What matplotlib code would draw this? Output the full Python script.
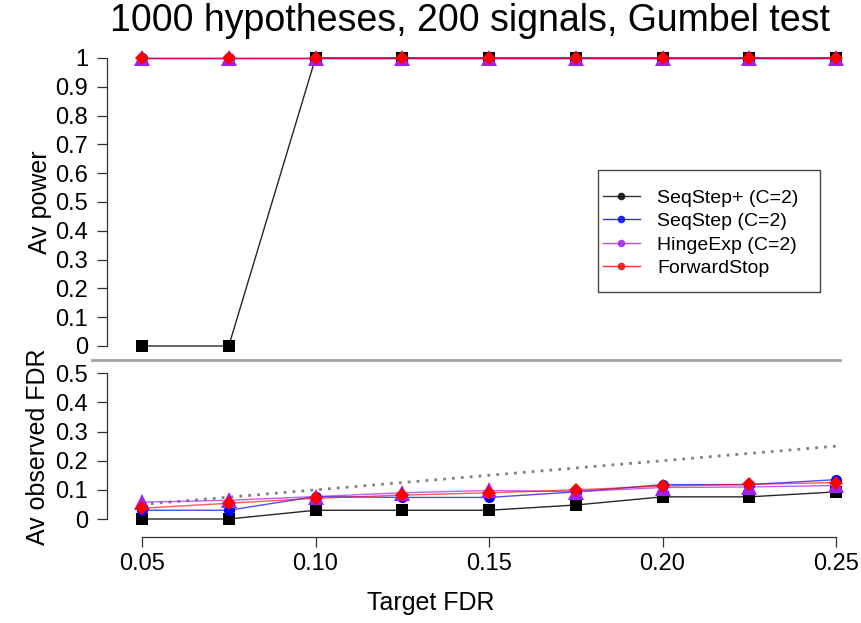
import matplotlib
matplotlib.use("Agg")
import matplotlib.pyplot as plt
from matplotlib.lines import Line2D
from matplotlib.patches import Rectangle
import numpy as np

plt.rcParams['font.family'] = ['Liberation Sans', 'DejaVu Sans']

target_fdr = [0.05, 0.075, 0.10, 0.125, 0.15, 0.175, 0.20, 0.225, 0.25]
x_ticks = [0.05, 0.10, 0.15, 0.20, 0.25]
x_tick_labels = ["0.05", "0.10", "0.15", "0.20", "0.25"]

methods = ["SeqStep+ (C=2)", "SeqStep (C=2)", "HingeExp (C=2)", "ForwardStop"]
colors = ["black", "#0000ff", "#a020f0", "#ff0000"]
markers = ["s", "o", "^", "D"]

power_seqstep_plus = [0, 0, 1, 1, 1, 1, 1, 1, 1]
power_seqstep = [1, 1, 1, 1, 1, 1, 1, 1, 1]
power_hingeexp = [1, 1, 1, 1, 1, 1, 1, 1, 1]
power_forwardstop = [1, 1, 1, 1, 1, 1, 1, 1, 1]

fdr_seqstep_plus = [0.0, 0.0, 0.03, 0.03, 0.03, 0.048, 0.076, 0.076, 0.093]
fdr_seqstep = [0.03, 0.03, 0.077, 0.074, 0.074, 0.093, 0.118, 0.118, 0.135]
fdr_hingeexp = [0.058, 0.064, 0.077, 0.09, 0.098, 0.094, 0.108, 0.11, 0.115]
fdr_forwardstop = [0.037, 0.054, 0.071, 0.082, 0.09, 0.1, 0.113, 0.119, 0.125]

power = [power_seqstep_plus, power_seqstep, power_hingeexp, power_forwardstop]
fdr = [fdr_seqstep_plus, fdr_seqstep, fdr_hingeexp, fdr_forwardstop]

W, H = 862, 623
fig = plt.figure(figsize=(W / 100, H / 100), dpi=100)

x_left_px, x_right_px = 107, 862
x0_px, x1_px = 142, 836
xscale = (x1_px - x0_px) / 0.20
xlim = (0.05 - (x0_px - x_left_px) / xscale, 0.25 + (x_right_px - x1_px) / xscale)


def make_axes(top_px, bot_px, zero_px, scale):
    ax = fig.add_axes([x_left_px / W, 1 - bot_px / H,
                       (x_right_px - x_left_px) / W, (bot_px - top_px) / H])
    ax.set_xlim(*xlim)
    ax.set_ylim((zero_px - bot_px) / scale, (zero_px - top_px) / scale)
    ax.patch.set_alpha(0)
    for s in ["top", "right"]:
        ax.spines[s].set_visible(False)
    return ax


tick_kw = dict(length=7.2, width=0.9, labelsize=17, color="#333333")
ms = {"s": 8.5, "o": 8, "^": 11, "D": 7.2}
line_alpha = [0.85, 0.7, 0.7, 0.65]


def draw_series(ax, series):
    for vals, c, a in zip(series, colors, line_alpha):
        ax.plot(target_fdr, vals, color=c, lw=1.0, alpha=a, clip_on=False, zorder=2)
    for vals, c, m in zip(series, colors, markers):
        ax.plot(target_fdr, vals, ls="none", marker=m, color=c, ms=ms[m],
                markeredgewidth=0, clip_on=False, zorder=3)


# top panel
ax1 = make_axes(45, 355, 346, 288)
ax1.spines["bottom"].set_visible(False)
ax1.set_xticks([])
ax1.spines["left"].set_bounds(0, 1)
ax1.spines["left"].set_linewidth(0.9)
ax1.spines["left"].set_color("#333333")
ax1.set_yticks(np.arange(0, 11) / 10)
ax1.set_yticklabels(["0"] + ["0.%d" % i for i in range(1, 10)] + ["1"])
ax1.tick_params(axis="y", pad=6.5, **tick_kw)
draw_series(ax1, power)

fig.text(40 / W, 1 - 202 / H, "Av power", rotation=90, fontsize=18,
         ha="center", va="center")

# separator line
fig.add_artist(Line2D([92 / W, 840 / W], [1 - 360 / H, 1 - 360 / H],
                      color="#a0a0a0", lw=2, transform=fig.transFigure))

# bottom panel
ax2 = make_axes(365, 537, 519, 291.4)
ax2.spines["left"].set_bounds(0, 0.5)
ax2.spines["bottom"].set_bounds(0.05, 0.25)
for s in ["left", "bottom"]:
    ax2.spines[s].set_linewidth(0.9)
    ax2.spines[s].set_color("#333333")
ax2.set_yticks([0, 0.1, 0.2, 0.3, 0.4, 0.5])
ax2.set_yticklabels(["0", "0.1", "0.2", "0.3", "0.4", "0.5"])
ax2.tick_params(axis="y", pad=6.5, **tick_kw)
ax2.set_xticks(x_ticks)
ax2.set_xticklabels(x_tick_labels)
ax2.tick_params(axis="x", pad=4, **tick_kw)

ax2.plot([0.05, 0.25], [0.05, 0.25], color="#808080", ls=(0, (1, 2.2)), lw=2.0,
         clip_on=False, zorder=1)
draw_series(ax2, fdr)

fig.text(38 / W, 1 - 447 / H, "Av observed FDR", rotation=90, fontsize=18,
         ha="center", va="center")
fig.text(431 / W, 1 - 603 / H, "Target FDR", fontsize=18, ha="center", va="center")
fig.text(470 / W, 1 - 31 / H, "1000 hypotheses, 200 signals, Gumbel test",
         fontsize=27, ha="center", va="baseline")

# legend (frame drawn separately)
fig.add_artist(Rectangle((598 / W, 1 - 292 / H), (820 - 598) / W, (292 - 170) / H,
                         transform=fig.transFigure, facecolor="white",
                         edgecolor="#444444", lw=1.0, zorder=4))
handles = [Line2D([], [], color=c, lw=1.0, alpha=0.8, marker="o", ms=4.5,
                  markerfacecolor=c, markeredgecolor=c) for c in colors]
leg = fig.legend(handles, methods, loc="upper left",
                 bbox_to_anchor=(603 / W, 1 - 189 / H), fontsize=14,
                 frameon=False, handlelength=1.9, handletextpad=0.9,
                 labelspacing=0.3, borderpad=0, borderaxespad=0)
leg.set_zorder(5)

fig.savefig("out.png", dpi=100)
